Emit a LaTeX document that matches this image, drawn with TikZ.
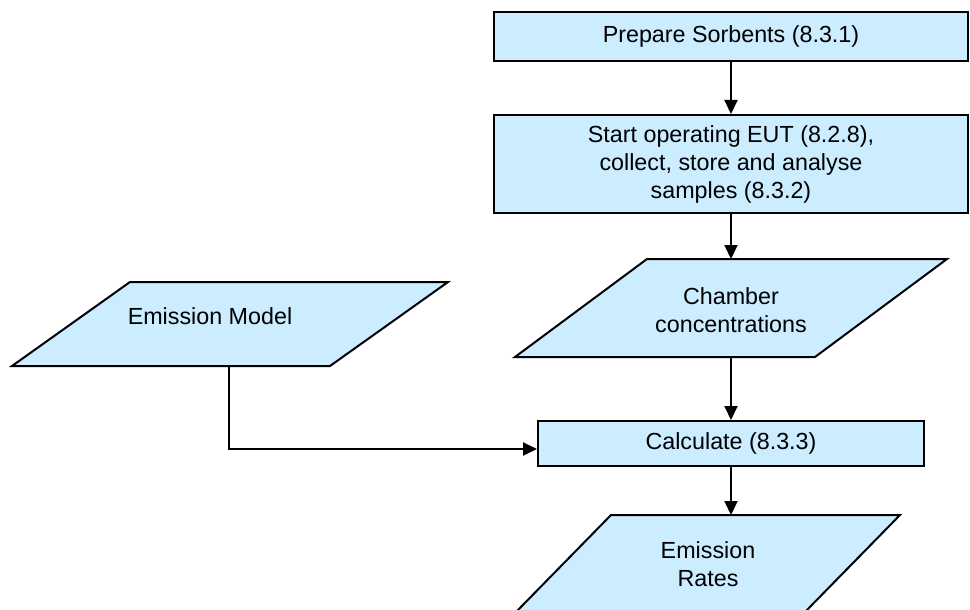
\documentclass[tikz,border=0pt]{standalone}
\usepackage{fontspec}
\setmainfont{Liberation Sans}
\usetikzlibrary{arrows.meta}
\definecolor{boxfill}{RGB}{204,236,255}
\tikzset{
  lw/.style={line width=2pt},
  stepbox/.style={draw, lw, fill=boxfill, align=center, inner sep=0pt,
    font=\fontsize{23.3}{28}\selectfont},
  lbl/.style={align=center, inner sep=0pt, font=\fontsize{23.3}{28}\selectfont},
  para/.style={draw, lw, fill=boxfill},
  conn/.style={lw, -{Triangle[length=14pt,width=13pt]}}
}
\begin{document}
\begin{tikzpicture}[x=1pt,y=-1pt]
\useasboundingbox (0,0) rectangle (970,610);
% rectangles
\node[stepbox, minimum width=474pt, minimum height=49pt] (prep) at (731,36.5) {Prepare Sorbents (8.3.1)};
\node[stepbox, minimum width=474pt, minimum height=98pt] (start) at (731,164) {Start operating EUT (8.2.8),\\collect, store and analyse\\samples (8.3.2)};
\node[stepbox, minimum width=386pt, minimum height=45pt] (calc) at (731,443.5) {Calculate (8.3.3)};
% chamber concentrations
\draw[para] (647,259) -- (947,259) -- (815,357) -- (515,357) -- cycle;
\coordinate (chtop) at (731,259);
\coordinate (chbot) at (731,357);
\node[lbl] (cham) at (731,310) {Chamber\\concentrations};
% emission model
\draw[para] (130,282) -- (448,282) -- (330,366) -- (12,366) -- cycle;
\coordinate (embot) at (229,366);
\node[lbl] (emod) at (210,316) {Emission Model};
% emission rates (cut at the bottom)
\fill[boxfill] (611,515) -- (900,515) -- (805,612) -- (516,612) -- cycle;
\draw[lw] (516,612) -- (611,515) -- (900,515) -- (805,612);
\coordinate (ertop) at (731,515);
\node[lbl] (erate) at (708,564) {Emission\\Rates};
% connectors
\draw[conn] (prep.south) -- (start.north);
\draw[conn] (start.south) -- (chtop);
\draw[conn] (chbot) -- (calc.north);
\draw[conn] (calc.south) -- (ertop);
\draw[conn] (embot) |- ([yshift=-5.5pt]calc.west);
\end{tikzpicture}
\end{document}
